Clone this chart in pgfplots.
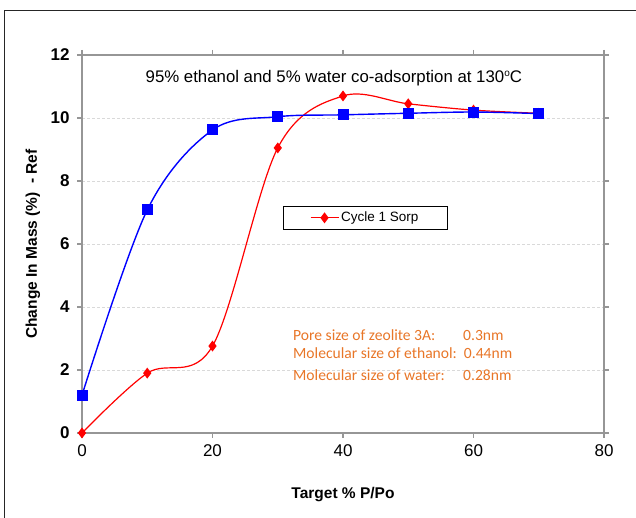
\documentclass[border=0pt]{standalone}
\usepackage{pgfplots}
\pgfplotsset{compat=1.18}
\usepackage{fontspec}
\setmainfont{Liberation Sans}
\newfontfamily\calibri{Carlito}
\definecolor{annor}{RGB}{232,118,40}
\definecolor{axgray}{RGB}{150,150,150}
\begin{document}
\begin{tikzpicture}[x=1pt,y=1pt]
\useasboundingbox (0,0) rectangle (636,518);
\draw[black!85, line width=1.3pt] (4.5,-2) -- (4.5,507.5) -- (640,507.5);
\begin{axis}[
  at={(82pt,85pt)}, anchor=south west,
  scale only axis, width=522pt, height=378pt,
  xmin=0, xmax=80, ymin=0, ymax=12,
  xtick={0,20,...,80}, ytick={0,2,...,12},
  /pgf/number format/assume math mode=true,
  axis line style={axgray, line width=1.1pt},
  tick style={axgray, line width=1.1pt},
  tick align=outside, major tick length=5pt,
  ymajorgrids, grid style={dash pattern=on 3pt off 2pt, gray!30, line width=0.6pt},
  xticklabel style={font=\fontsize{17}{20}\selectfont, yshift=-3pt},
  yticklabel style={font=\bfseries\fontsize{17}{20}\selectfont, xshift=-4pt},
  xlabel={Target \% P/Po},
  ylabel={Change In Mass (\%) \ - Ref},
  xlabel style={font=\bfseries\fontsize{15.5}{18}\selectfont, at={(axis description cs:0.5,-0.164)}, anchor=center},
  ylabel style={font=\bfseries\fontsize{15.5}{18}\selectfont, at={(axis description cs:-0.094,0.5)}, anchor=center},
  legend style={draw=black, line width=0.6pt, at={(axis cs:43.4,6.83)}, anchor=center,
    font=\fontsize{13.5}{16}\selectfont, inner xsep=27pt, inner ysep=3.5pt},
  legend cell align=left,
  legend image code/.code={\draw[#1, mark repeat=2, mark phase=2] plot coordinates {(0pt,0pt) (14pt,0pt) (28pt,0pt)};},
  clip=false,
]
\addplot[red, line width=1.2pt, smooth, tension=0.55, mark=diamond*, mark size=4.5pt, mark options={solid, fill=red, draw=red}]
  coordinates {(0,0) (10,1.9) (20,2.76) (30,9.05) (40,10.7) (50,10.45) (60,10.25) (70,10.15)};
\addlegendentry{Cycle 1 Sorp}
\addplot[blue, line width=1.4pt, smooth, tension=0.55, mark=square*, mark size=4.8pt, mark options={solid, fill=blue, draw=blue}, forget plot]
  coordinates {(0,1.2) (10,7.08) (20,9.62) (30,10.04) (40,10.1) (50,10.15) (60,10.19) (70,10.14)};
\node[font=\fontsize{16.8}{20}\selectfont] at (axis cs:38.6,11.25) {95\% ethanol and 5\% water co-adsorption at 130\raisebox{0.75ex}{\fontsize{10}{12}\selectfont o}C};
\node[anchor=base west, inner sep=0pt, text=annor, font=\calibri\fontsize{15.6}{18}\selectfont] at (axis cs:32.33,2.95) {Pore size of zeolite 3A:};
\node[anchor=base west, inner sep=0pt, text=annor, font=\calibri\fontsize{15.6}{18}\selectfont] at (axis cs:58.39,2.95) {0.3nm};
\node[anchor=base west, inner sep=0pt, text=annor, font=\calibri\fontsize{15.6}{18}\selectfont] at (axis cs:32.33,2.35) {Molecular size of ethanol:};
\node[anchor=base west, inner sep=0pt, text=annor, font=\calibri\fontsize{15.6}{18}\selectfont] at (axis cs:58.5,2.35) {0.44nm};
\node[anchor=base west, inner sep=0pt, text=annor, font=\calibri\fontsize{15.6}{18}\selectfont] at (axis cs:32.33,1.68) {Molecular size of water:};
\node[anchor=base west, inner sep=0pt, text=annor, font=\calibri\fontsize{15.6}{18}\selectfont] at (axis cs:58.39,1.68) {0.28nm};
\end{axis}
\end{tikzpicture}
\end{document}
